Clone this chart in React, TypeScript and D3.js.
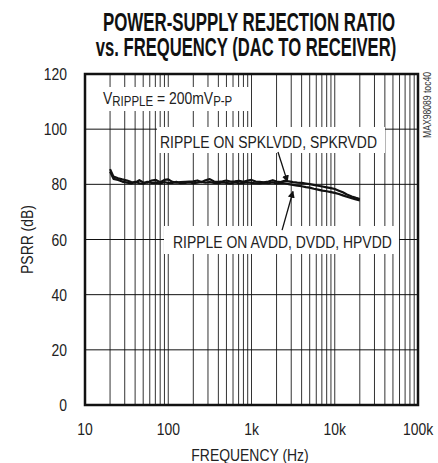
import React from "react";
import * as d3 from "d3";

const freqs = [20,22,25,28,32,36,40,45,50,56,63,71,80,90,100,112,125,140,160,180,200,224,250,280,315,355,400,450,500,560,630,710,800,900,1000,1120,1250,1400,1600,1800,2000,2240,2500,2800,3150,3550,4000,4500,5000,5600,6300,7100,8000,9000,10000,11200,12500,14000,16000,18000,20000];

const psrrSpk = [85.5,82.8,82.2,81.8,81.4,80.8,80.6,81.5,80.7,80.6,81.4,81.6,80.8,81.6,81.8,80.9,80.6,80.8,80.9,81.0,81.1,81.4,80.8,81.5,81.9,81.0,80.9,81.1,81.4,81.0,81.1,81.3,80.9,81.4,81.6,81.0,80.9,80.7,81.0,81.5,81.0,80.8,81.3,81.1,80.8,80.6,80.5,80.3,80.1,79.8,79.5,79.2,78.9,78.6,78.3,77.7,77.1,76.3,75.6,75.1,74.7];

const psrrAvdd = [84.6,82.0,81.6,81.0,80.6,80.3,80.9,80.4,80.2,80.9,80.5,80.6,80.3,80.8,80.5,80.5,80.9,80.4,80.5,80.7,80.4,80.6,80.9,80.6,80.8,80.5,80.4,80.7,80.5,80.3,80.7,80.4,80.5,80.7,80.5,80.4,80.3,80.6,80.4,80.7,80.3,80.5,80.4,80.1,79.8,79.5,79.3,79.0,78.8,78.4,78.1,77.7,77.5,77.2,76.9,76.5,76.0,75.5,75.0,74.5,74.2];

const xTicks = [10, 100, 1000, 10000, 100000];
const xTickLabels = ["10", "100", "1k", "10k", "100k"];
const yTicks = [0, 20, 40, 60, 80, 100, 120];

const W = 438, H = 463;
const L = 85, R = 418, T = 74, B = 405;
const FONT = "'Liberation Sans', Arial, sans-serif";
const SX = 0.82;

type CTProps = {
  x: number; y: number; sx?: number; rotate?: number; anchor?: string;
  size?: number; weight?: string; fill?: string; children?: React.ReactNode;
};
function CText({ x, y, sx = SX, rotate = 0, anchor = "start", size = 17, weight = "normal", fill = "#222", children }: CTProps) {
  return (
    <text transform={`translate(${x},${y}) rotate(${rotate}) scale(${sx},1)`} textAnchor={anchor}
      fontSize={size} fontWeight={weight} fill={fill}>{children}</text>
  );
}

export default function App() {
  const x = d3.scaleLog().domain([10, 100000]).range([L, R]);
  const y = d3.scaleLinear().domain([0, 120]).range([B, T]);

  const minor: number[] = [];
  for (let dec = 10; dec < 100000; dec *= 10) {
    for (let m = 1; m < 10; m++) minor.push(dec * m);
  }

  const line = d3.line<number>()
    .x((_, i) => x(freqs[i]))
    .y((d) => y(d));

  const arrows = [
    { f0: 2080, v0: 91.7, f1: 2700, v1: 81.0 },
    { f0: 2330, v0: 63.4, f1: 3150, v1: 77.4 },
  ];

  return (
    <svg width={W} height={H} style={{ position: "absolute", left: 0, top: 0, background: "#fff" }}
      fontFamily={FONT}>
      <defs>
        <marker id="ah" viewBox="0 0 10 10" refX="9" refY="5" markerWidth="7" markerHeight="9"
          markerUnits="userSpaceOnUse" orient="auto">
          <path d="M0,0 L10,5 L0,10 z" fill="#111" />
        </marker>
      </defs>
      {/* title */}
      <CText x={249} y={31} sx={0.675} anchor="middle" size={25} weight="bold" fill="#111">POWER-SUPPLY REJECTION RATIO</CText>
      <CText x={246} y={56} sx={0.665} anchor="middle" size={25} weight="bold" fill="#111">vs. FREQUENCY (DAC TO RECEIVER)</CText>

      {/* vertical grid */}
      {minor.map((f) => (
        <line key={"v" + f} x1={x(f)} x2={x(f)} y1={T} y2={B} stroke="#333" strokeWidth={1} />
      ))}
      {/* horizontal grid */}
      {yTicks.map((v) => (
        <line key={"h" + v} x1={L} x2={R} y1={y(v)} y2={y(v)} stroke="#111" strokeWidth={1} />
      ))}

      {/* label boxes */}
      <rect x={101} y={87} width={149} height={24} fill="#fff" />
      <rect x={157} y={127} width={228} height={26} fill="#fff" />
      <rect x={164} y={226} width={235} height={28} fill="#fff" />

      {/* curves */}
      <path d={line(psrrSpk) || ""} fill="none" stroke="#111" strokeWidth={2.2} strokeLinejoin="round" />
      <path d={line(psrrAvdd) || ""} fill="none" stroke="#111" strokeWidth={2.2} strokeLinejoin="round" />

      {/* border */}
      <rect x={L} y={T} width={R - L} height={B - T} fill="none" stroke="#111" strokeWidth={2.5} />

      {/* annotations */}
      <CText x={103} y={104}>
        V<tspan fontSize={14} dy={2}>RIPPLE</tspan><tspan dy={-2}> = 200mV</tspan><tspan fontSize={14} dy={2}>P-P</tspan>
      </CText>
      <CText x={160} y={148}>RIPPLE ON SPKLVDD, SPKRVDD</CText>
      <CText x={173} y={248}>RIPPLE ON AVDD, DVDD, HPVDD</CText>
      {arrows.map((a, i) => (
        <line key={"a" + i} x1={x(a.f0)} y1={y(a.v0)} x2={x(a.f1)} y2={y(a.v1)}
          stroke="#111" strokeWidth={1.3} markerEnd="url(#ah)" />
      ))}

      {/* y tick labels */}
      {yTicks.map((v) => (
        <CText key={"yl" + v} x={67} y={y(v) + 6} anchor="end">{v}</CText>
      ))}
      {/* x tick labels */}
      {xTicks.map((f, i) => (
        <CText key={"xl" + f} x={x(f)} y={435} anchor="middle">{xTickLabels[i]}</CText>
      ))}
      <CText x={250} y={461} anchor="middle">FREQUENCY (Hz)</CText>
      <CText x={33} y={(T + B) / 2} rotate={-90} anchor="middle">PSRR (dB)</CText>
      <CText x={431} y={105} rotate={-90} anchor="middle" size={10.5} fill="#333">MAX98089 toc40</CText>
    </svg>
  );
}
